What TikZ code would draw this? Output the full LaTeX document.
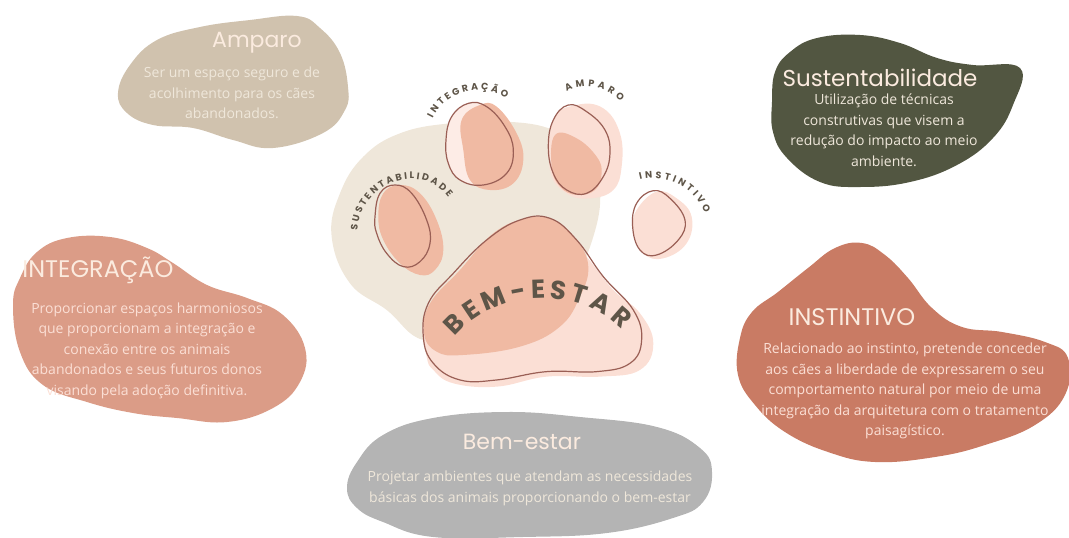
\documentclass[tikz,border=0pt]{standalone}
\usepackage{fontspec}
\setmainfont{Open Sans}
\newfontfamily\titlefont{Poppins}
\definecolor{PawSand}{HTML}{D0C2AE}
\definecolor{PawClay}{HTML}{DB9C87}
\definecolor{PawGrey}{HTML}{B4B4B4}
\definecolor{PawRust}{HTML}{C97B64}
\definecolor{PawMoss}{HTML}{525641}
\definecolor{PawCream}{HTML}{EFE7DA}
\definecolor{PawPale}{HTML}{FBDFD5}
\definecolor{PawPeach}{HTML}{F0BAA3}
\definecolor{PawLine}{HTML}{9A5F55}
\definecolor{PawInk}{HTML}{5E5548}
\definecolor{PawTitle}{HTML}{FBEBDF}
\usetikzlibrary{positioning, decorations.text}
\tikzset{
    % Card headline
    cardtitle/.style={
        text=PawTitle,
        inner sep=0pt,
        font=\titlefont\fontsize{#1}{#1}\selectfont
    },
    % Card body text
    cardbody/.style={
        inner sep=0pt,
        align=center,
        font=\fontsize{14}{20.5}\selectfont
    },
    % Paw outline
    pawline/.style={
        draw=PawLine,
        line width=1.2pt
    },
    % Small curved toe label
    toelabel/.style={
        decoration={
            text along path,
            text align=fit to path,
            text={|\titlefont\bfseries\fontsize{9.5}{9.5}\selectfont\color{PawInk}|#1}
        },
        decorate
    }
}

\begin{document}
\begin{tikzpicture}[x=1pt, y=-1pt]
    \useasboundingbox (0,0) rectangle (1069,538);

    % Cards
    \fill [PawSand] plot [smooth cycle, tension=0.7] coordinates {(118,93) (130,65) (157,40) (200,27) (250,20) (297,16) (320,28) (340,53) (348,87) (345,110) (323,133) (273,148) (233,140) (193,128) (153,125) (127,113)};
    \fill [PawClay] plot [smooth cycle, tension=0.7] coordinates {(13,305) (20,278) (37,252) (67,238) (110,237) (147,248) (173,263) (207,285) (247,298) (283,315) (305,348) (300,382) (273,408) (227,422) (177,418) (133,413) (87,402) (43,385) (20,352)};
    \fill [PawGrey] plot [smooth cycle, tension=0.7] coordinates {(347,488) (357,462) (383,435) (433,418) (507,412) (580,417) (657,427) (700,448) (712,472) (703,502) (673,518) (607,533) (523,537) (433,537) (383,522) (357,508)};
    \fill [PawRust] plot [smooth cycle, tension=0.7] coordinates {(738,375) (740,338) (752,312) (778,292) (808,268) (835,248) (862,243) (885,255) (908,278) (932,308) (962,327) (1002,332) (1045,342) (1068,358) (1065,395) (1035,425) (985,445) (935,457) (875,462) (828,452) (785,432) (755,405)};
    \fill [PawMoss] plot [smooth cycle, tension=0.7] coordinates {(772,102) (775,72) (790,52) (817,38) (860,35) (900,43) (937,58) (973,65) (1020,68) (1013,105) (993,138) (957,165) (910,182) (860,187) (820,182) (787,158) (773,132)};

    % Card texts
    \node (ampTitle) [cardtitle=22] at (257,43) {Amparo};
    \node (ampBody) [cardbody, text=PawCream, below=13pt of ampTitle, xshift=-25pt] {Ser um espaço seguro e de\\acolhimento para os cães\\abandonados.};
    \node (intTitle) [cardtitle=24] at (98,270) {INTEGRAÇÃO};
    \node (intBody) [cardbody, text=PawPale, below=19pt of intTitle, xshift=49pt] {Proporcionar espaços harmoniosos\\que proporcionam a integração e\\conexão entre os animais\\abandonados e seus futuros donos\\visando pela adoção definitiva.};
    \node (bemTitle) [cardtitle=22] at (522,442) {Bem-estar};
    \node (bemBody) [cardbody, text=PawCream, below=21pt of bemTitle, xshift=8pt] {Projetar ambientes que atendam as necessidades\\básicas dos animais proporcionando o bem-estar};
    \node (insTitle) [cardtitle=24] at (852,317) {INSTINTIVO};
    \node (insBody) [cardbody, text=PawPale, below=17pt of insTitle, xshift=53pt] {Relacionado ao instinto, pretende conceder\\aos cães a liberdade de expressarem o seu\\comportamento natural por meio de uma\\integração da arquitetura com o tratamento\\paisagístico.};
    \node (susTitle) [cardtitle=23] at (880,78) {Sustentabilidade};
    \node (susBody) [cardbody, text=PawCream, below=7pt of susTitle, xshift=4pt] {Utilização de técnicas\\construtivas que visem a\\redução do impacto ao meio\\ambiente.};

    % Paw, same grid as a 3x crop
    \begin{scope}[xshift=320pt, yshift=-70pt, x=0.3333pt, y=-0.3333pt]
        \fill [PawCream] plot [smooth cycle, tension=0.7] coordinates {(35,500) (60,370) (130,260) (240,190) (390,160) (560,155) (700,180) (800,250) (840,360) (820,500) (760,620) (650,700) (450,780) (310,810) (200,720) (90,640)};

        % Main pad
        \fill [PawPale] plot [smooth cycle, tension=0.7] coordinates {(320,860) (310,760) (350,680) (430,590) (530,490) (640,450) (730,480) (800,560) (880,660) (960,730) (1000,820) (960,900) (840,920) (680,920) (530,950) (400,940) (340,900)};
        \fill [PawPeach] plot [smooth cycle, tension=0.7] coordinates {(312,790) (330,700) (420,600) (520,490) (620,445) (700,450) (770,510) (805,590) (780,680) (720,770) (600,830) (430,855) (350,845)};
        \draw [pawline] plot [smooth cycle, tension=0.7] coordinates {(310,800) (325,700) (400,610) (500,510) (600,450) (690,445) (770,510) (850,620) (940,720) (965,810) (930,880) (830,905) (680,905) (530,930) (420,930) (340,880)};

        % Toes
        \fill [PawPeach] plot [smooth cycle, tension=0.7] coordinates {(175,440) (190,370) (240,345) (300,370) (350,450) (370,540) (345,600) (300,615) (240,580) (190,510)};
        \draw [pawline] plot [smooth cycle, tension=0.7] coordinates {(165,440) (180,370) (225,345) (275,370) (320,450) (330,520) (300,575) (250,590) (200,550) (170,490)};

        \fill [PawPale!60] plot [smooth cycle, tension=0.7] coordinates {(378,210) (395,140) (445,100) (500,110) (555,170) (580,240) (560,310) (490,345) (420,330) (385,280)};
        \fill [PawPeach] plot [smooth cycle, tension=0.7] coordinates {(425,150) (480,105) (530,110) (590,190) (610,270) (580,340) (510,360) (450,330) (430,240)};
        \draw [pawline] plot [smooth cycle, tension=0.7] coordinates {(378,210) (395,140) (445,100) (500,110) (555,170) (580,240) (560,310) (490,345) (420,330) (385,280)};

        \fill [PawPale] plot [smooth cycle, tension=0.7] coordinates {(700,150) (770,105) (850,115) (900,190) (905,290) (880,360) (810,385) (740,370) (690,300)};
        \fill [PawPeach] plot [smooth cycle, tension=0.7] coordinates {(705,195) (770,205) (830,260) (845,310) (825,360) (770,375) (720,350) (695,290)};
        \draw [pawline] plot [smooth cycle, tension=0.7] coordinates {(685,230) (700,150) (745,105) (800,125) (855,180) (870,250) (850,320) (800,370) (740,360) (700,310)};

        \fill [PawPale] plot [smooth cycle, tension=0.7] coordinates {(950,420) (1010,365) (1070,385) (1115,440) (1100,520) (1030,565) (970,550) (940,480)};
        \draw [pawline] plot [smooth cycle, tension=0.7] coordinates {(938,470) (950,400) (1000,362) (1050,385) (1095,450) (1075,510) (1010,555) (960,540)};

        % Curved labels
        \path [toelabel=INTEGRAÇÃO] (338,145) .. controls (380,60) and (490,35) .. (558,85);
        \path [toelabel=AMPARO] (740,65) .. controls (790,35) and (860,50) .. (902,95);
        \path [toelabel=INSTINTIVO] (960,330) .. controls (1040,310) and (1120,350) .. (1155,430);
        \path [toelabel=SUSTENTABILIDADE] (112,482) .. controls (120,340) and (300,270) .. (385,382);
        \path [decoration={text along path, text align=fit to path, text={|\titlefont\bfseries\fontsize{26}{26}\selectfont\color{PawInk}|BEM-ESTAR}}, decorate] (405,800) .. controls (520,660) and (770,640) .. (905,780);
    \end{scope}
\end{tikzpicture}
\end{document}
